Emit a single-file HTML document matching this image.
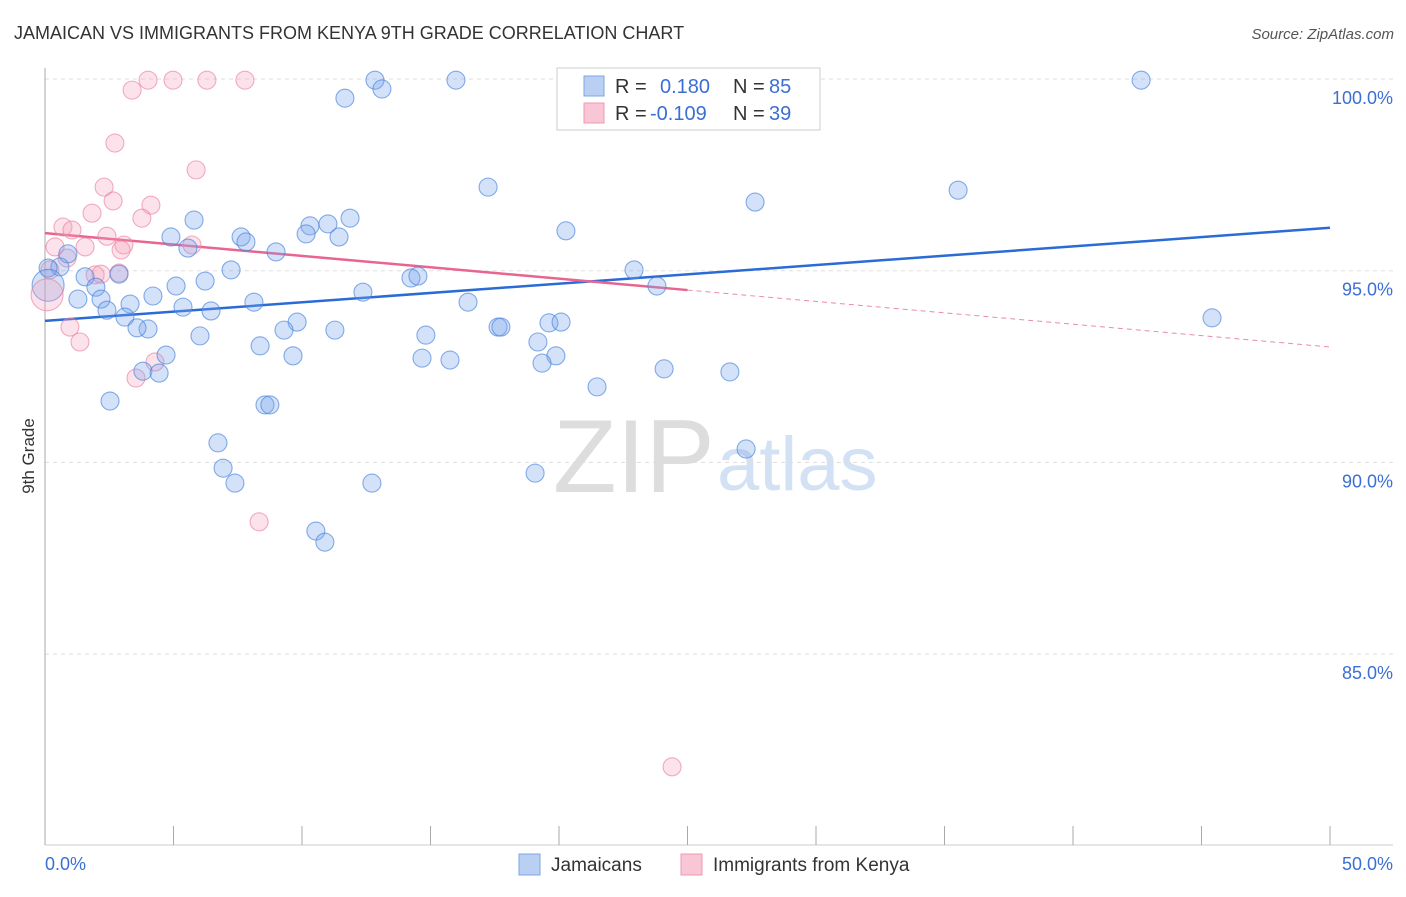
<!DOCTYPE html>
<html><head><meta charset="utf-8"><style>
body{margin:0;background:#fff;font-family:"Liberation Sans",sans-serif;}
svg text{font-family:"Liberation Sans",sans-serif;}
</style></head><body>
<svg id="c" width="1406" height="892">
<text x="14" y="39" font-size="18" fill="#333">JAMAICAN VS IMMIGRANTS FROM KENYA 9TH GRADE CORRELATION CHART</text>
<text x="1394" y="39" font-size="15" fill="#555" font-style="italic" text-anchor="end">Source: ZipAtlas.com</text>
<text x="34" y="456" font-size="17" fill="#333" transform="rotate(-90 34 456)" text-anchor="middle">9th Grade</text>
<g>
<text x="553" y="492" font-size="104" fill="#ddd" font-family="Liberation Serif">ZIP</text>
<text x="717" y="490" font-size="76" fill="#d3e1f5">atlas</text>
</g>
<g id="grid"></g><g id="axes"></g><g id="trend"></g><g id="pts"></g>
<g>
<rect x="557" y="68" width="263" height="62" fill="#fff" stroke="#ccc"/>
<rect x="584" y="76" width="20" height="20" fill="#b9d0f3" stroke="#7ea4e4"/>
<text x="615" y="93" font-size="20" fill="#333">R = <tspan fill="#3b6fd4" x="660">0.180</tspan><tspan fill="#333" x="733">N =</tspan><tspan fill="#3b6fd4" x="769">85</tspan></text>
<rect x="584" y="103" width="20" height="20" fill="#f8c6d4" stroke="#ee9ab2"/>
<text x="615" y="120" font-size="20" fill="#333">R = <tspan fill="#3b6fd4" x="650">-0.109</tspan><tspan fill="#333" x="733">N =</tspan><tspan fill="#3b6fd4" x="769">39</tspan></text>
</g>
<g>
<rect x="519" y="854" width="21" height="21" fill="#b9d0f3" stroke="#7ea4e4"/>
<text x="551" y="871" font-size="19" fill="#333">Jamaicans</text>
<rect x="681" y="854" width="21" height="21" fill="#f8c6d4" stroke="#ee9ab2"/>
<text x="713" y="871" font-size="19" fill="#333">Immigrants from Kenya</text>
</g>
</svg>
<script>
const blueX=[11.67,12.84,13.11,15.99,26.5,42.65,17.24,35.53,27.63,5.8,11.87,10.31,11.01,10.16,11.44,20.27,4.9,7.63,7.82,5.56,8.99,0.89,0.58,0.12,7.24,22.92,1.56,2.88,14.24,14.51,6.23,5.1,23.81,1.98,4.2,12.37,1.28,2.18,3.31,8.13,16.46,5.37,2.41,6.46,3.11,45.41,9.81,19.61,20.08,4.01,3.58,9.3,11.28,17.63,17.74,14.82,6.03,19.18,8.37,4.71,9.65,19.88,14.67,15.76,19.34,24.09,26.65,3.81,4.44,21.48,2.53,8.56,8.75,6.73,27.28,6.93,19.07,7.39,12.72,10.54,10.89];
const blueY=[99.5,99.97,99.74,99.97,99.97,99.97,97.18,97.1,96.79,96.32,96.37,96.17,96.22,95.96,95.88,96.04,95.88,95.88,95.75,95.59,95.49,95.44,95.1,95.07,95.02,95.02,94.84,94.91,94.81,94.86,94.73,94.6,94.6,94.57,94.34,94.44,94.26,94.26,94.13,94.18,94.18,94.05,93.97,93.95,93.79,93.77,93.66,93.64,93.66,93.48,93.51,93.45,93.45,93.53,93.53,93.32,93.3,93.14,93.04,92.8,92.78,92.78,92.72,92.67,92.59,92.44,92.36,92.38,92.33,91.97,91.6,91.5,91.5,90.51,90.35,89.85,89.72,89.46,89.46,88.21,87.92];
const pinkX=[4.01,4.98,6.3,7.78,3.39,23.15,2.72,5.88,2.3,2.65,4.12,1.83,3.77,0.7,1.05,2.41,0.39,1.56,3.07,5.72,2.96,0.86,0.19,1.95,2.18,2.88,0.97,1.36,4.28,3.54,8.33,24.4];
const pinkY=[99.97,99.97,99.97,99.97,99.71,99.97,98.33,97.63,97.18,96.82,96.71,96.5,96.37,96.14,96.06,95.9,95.62,95.62,95.67,95.67,95.54,95.33,95.02,94.89,94.91,94.94,93.53,93.14,92.62,92.2,88.45,82.06];
const bigBlue=[[0.12,94.62]];
const bigPink=[[0.08,94.37]];
const yTicks=[100,95,90,85];
const xTickVals=[0,5,10,15,20,25,30,35,40,45,50];
const blueTrend=[93.69,96.12];
const pinkTrend=[95.98,93.01];
const pinkSolidEnd=25;
const NS="http://www.w3.org/2000/svg";
const X=v=>45+v*25.7, Y=v=>79+(100-v)*38.34;
function mk(t,a,p){const e=document.createElementNS(NS,t);for(const k in a)e.setAttribute(k,a[k]);p.appendChild(e);return e;}
const grid=document.getElementById('grid'),axes=document.getElementById('axes'),trend=document.getElementById('trend'),pts=document.getElementById('pts');
yTicks.forEach(v=>{const l=mk('line',{x1:45,x2:1393,y1:Y(v),y2:Y(v),stroke:'#ddd','stroke-dasharray':'4 4'},grid);


const t=mk('text',{x:1393,y:Y(v)+25,'font-size':18,fill:'#3b6fd4','text-anchor':'end'},axes);t.textContent=v.toFixed(1)+'%';

});
const ax=mk('line',{x1:45,x2:45,y1:68,y2:845,stroke:'#aaa'},axes);


const bx=mk('line',{x1:45,x2:1393,y1:845,y2:845,stroke:'#ccc'},axes);


xTickVals.forEach(v=>{const l=mk('line',{x1:X(v),x2:X(v),y1:826,y2:845,stroke:'#aaa'},axes);

});
[[0,'start',45],[50,'end',1393]].forEach(([v,a,x])=>{const t=mk('text',{x:x,y:870,'font-size':18,fill:'#3b6fd4','text-anchor':a},axes);t.textContent=v.toFixed(1)+'%';

});
function dot(x,y,r,c,name){const e=mk('circle',{cx:X(x),cy:Y(y),r:r,fill:c[0],stroke:c[1],'stroke-width':1.1},pts);

}
const BC=['rgba(120,165,235,0.32)','rgba(70,130,220,0.65)'],PC=['rgba(245,160,185,0.3)','rgba(235,130,160,0.65)'];
pinkX.forEach((x,i)=>dot(x,pinkY[i],9,PC,'kenya-point'));
blueX.forEach((x,i)=>dot(x,blueY[i],9,BC,'jamaican-point'));
bigBlue.forEach(p=>dot(p[0],p[1],16,BC,'jamaican-point-large'));
bigPink.forEach(p=>dot(p[0],p[1],16,PC,'kenya-point-large'));
const at=(t,x)=>t[0]+(t[1]-t[0])*x/50;
const bl=mk('line',{x1:X(0),y1:Y(at(blueTrend,0)),x2:X(50),y2:Y(at(blueTrend,50)),stroke:'#2a6bd6','stroke-width':2.5},trend);


const pl=mk('line',{x1:X(0),y1:Y(at(pinkTrend,0)),x2:X(pinkSolidEnd),y2:Y(at(pinkTrend,pinkSolidEnd)),stroke:'#e8658f','stroke-width':2.5},trend);


const pd=mk('line',{x1:X(pinkSolidEnd),y1:Y(at(pinkTrend,pinkSolidEnd)),x2:X(50),y2:Y(at(pinkTrend,50)),stroke:'#eb8aa8','stroke-width':1,'stroke-dasharray':'5 4'},trend);


</script>
</body></html>
